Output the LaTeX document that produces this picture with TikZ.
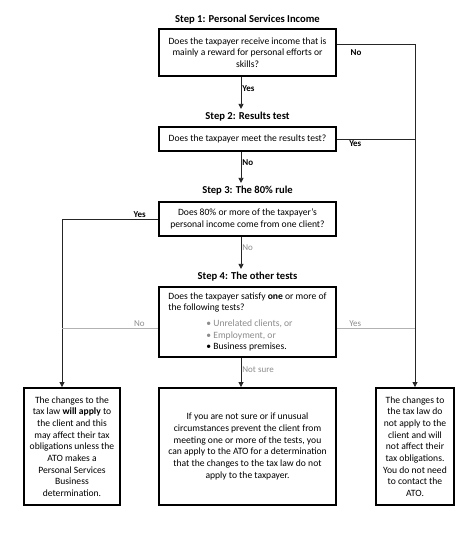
\documentclass[tikz,border=0pt]{standalone}
\usepackage{fontspec}
\setmainfont{Carlito}
\usetikzlibrary{arrows.meta}

\begin{document}
\begin{tikzpicture}[x=1pt,y=-1pt,
  qbox/.style={rectangle,draw,line width=2.4pt,fill=white,minimum width=177.5pt,inner sep=3pt,align=center,font=\fontsize{9.6}{11.7}\selectfont},
  steptitle/.style={font=\fontsize{10.6}{12}\selectfont\bfseries},
  conn/.style={draw=black!85,line width=0.8pt},
  arr/.style={conn,-{Triangle[length=5pt,width=5pt]}},
  gline/.style={draw=black!30,line width=0.8pt},
  lab/.style={font=\fontsize{9}{11}\selectfont\bfseries,inner sep=1pt},
  glab/.style={font=\fontsize{9}{11}\selectfont,text=black!45,inner sep=1pt}]
\useasboundingbox (0,0) rectangle (474,537);

\coordinate (spine) at (241,0);
\coordinate (lrail) at (62,0);

\node[steptitle] (t1) at (247.5,20) {Step 1: Personal Services Income};
\node[qbox,minimum height=46.5pt] (q1) at (247.5,52.5) {Does the taxpayer receive income that is\\ mainly a reward for personal efforts or\\ skills?};

\node[steptitle] (t2) at (247.5,117) {Step 2: Results test};
\node[qbox,minimum height=23.5pt] (q2) at (247.5,139) {Does the taxpayer meet the results test?};

\node[steptitle] (t3) at (247.5,191) {Step 3: The 80\% rule};
\node[qbox,minimum height=33.5pt] (q3) at (247.5,219) {Does 80\% or more of the taxpayer’s\\ personal income come from one client?};

\node[steptitle] (t4) at (247.5,277) {Step 4: The other tests};
\node[qbox,minimum height=69.5pt,align=left] (q4) at (247.5,322) {Does the taxpayer satisfy \textbf{one} or more of\\ the following tests?\\[4pt]
  \hspace*{38pt}\textcolor{black!45}{• Unrelated clients, or}\\
  \hspace*{38pt}\textcolor{black!45}{• Employment, or}\\
  \hspace*{38pt}• Business premises.};

\node[qbox,minimum width=96pt,minimum height=116.5pt] (r1) at (72,446.5) {The changes to the\\ tax law \textbf{will apply} to\\ the client and this\\ may affect their tax\\ obligations unless the\\ ATO makes a\\ Personal Services\\ Business\\ determination.};
\node[qbox,minimum height=116.5pt] (r2) at (247.5,446.5) {If you are not sure or if unusual\\ circumstances prevent the client from\\ meeting one or more of the tests, you\\ can apply to the ATO for a determination\\ that the changes to the tax law do not\\ apply to the taxpayer.};
\node[qbox,minimum width=78pt,minimum height=116.5pt] (r3) at (415,446.5) {The changes to\\ the tax law do\\ not apply to the\\ client and will\\ not affect their\\ tax obligations.\\ You do not need\\ to contact the\\ ATO.};

\draw[arr] (q1.south -| spine) -- node[lab,right,pos=0.35] {Yes} (t2.north -| spine);
\draw[arr] (q2.south -| spine) -- node[lab,right,pos=0.35] {No} (t3.north -| spine);
\draw[arr] (q3.south -| spine) -- node[glab,right,pos=0.35] {No} (t4.north -| spine);
\draw[arr] (q4.south -| spine) -- node[glab,right,pos=0.4] {Not sure} (r2.north -| spine);

\draw[arr] ([yshift=8.5pt]q1.east) -| node[lab,below,pos=0.12,yshift=-4pt] {No} (r3.north);
\draw[conn] (q2.east) -- node[lab,below,pos=0.23] {Yes} (q2.east -| r3.north);
\draw[arr] (q3.west) -| node[lab,above,pos=0.094] {Yes} (lrail |- r1.north);

\draw[gline] ([yshift=-6pt]q4.west) -- node[glab,above,pos=0.19] {No} ([yshift=-6pt]q4.west -| lrail);
\draw[gline] ([yshift=-6pt]q4.east) -- node[glab,above,pos=0.23] {Yes} ([yshift=-6pt]q4.east -| r3.north);
\end{tikzpicture}
\end{document}
